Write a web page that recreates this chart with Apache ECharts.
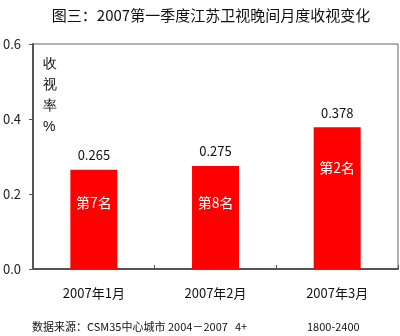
<!DOCTYPE html>
<html><head><meta charset="utf-8">
<script src="https://cdn.jsdelivr.net/npm/echarts@6/dist/echarts.min.js"></script>
<style>html,body{margin:0;padding:0;background:#fff}#c{width:400px;height:336px}</style>
</head><body><div id="c"></div>
<script>
const categories = ['2007年1月', '2007年2月', '2007年3月'];
const ratings = [0.265, 0.275, 0.378];
const ranks = ['第7名', '第8名', '第2名'];
const yTicks = [0, 0.2, 0.4, 0.6];
const rankOffsets = [26, 30, 33];

const FONT = '"Noto Sans CJK SC", "Noto Sans", sans-serif';
const chart = echarts.init(document.getElementById('c'), null, {renderer: 'canvas'});
chart.setOption({
  backgroundColor: '#fff',
  animation: false,
  textStyle: {fontFamily: FONT},
  title: {
    text: '图三：2007第一季度江苏卫视晚间月度收视变化',
    left: 206, top: 3, textAlign: 'center',
    textStyle: {fontSize: 15, fontWeight: 'normal', color: '#111', fontFamily: FONT}
  },
  grid: {left: 33, right: 2, top: 44, bottom: 67, show: true, borderColor: '#666', borderWidth: 1},
  xAxis: {
    type: 'category', data: categories,
    axisLine: {lineStyle: {color: '#555', width: 2}},
    axisTick: {show: true, inside: true, length: 4, lineStyle: {color: '#555'}},
    axisLabel: {fontSize: 13, color: '#111', margin: 18, fontFamily: FONT}
  },
  yAxis: {
    type: 'value', min: yTicks[0], max: yTicks[yTicks.length - 1], interval: 0.2,
    splitLine: {show: false},
    axisLine: {show: true, lineStyle: {color: '#555', width: 2}},
    axisTick: {show: true, length: 4, lineStyle: {color: '#555'}},
    axisLabel: {fontSize: 13, color: '#222', margin: 12, formatter: v => v.toFixed(1), fontFamily: FONT}
  },
  series: [
    {
      type: 'bar', barWidth: 47,
      data: ratings.map((v, i) => ({value: v})),
      itemStyle: {color: '#ff0000'},
      label: {show: true, position: 'top', distance: 8, fontSize: 13, color: '#111',
        formatter: p => p.value.toFixed(3), fontFamily: FONT},
      z: 2
    },
    {
      type: 'bar', barWidth: 47, barGap: '-100%',
      data: ratings.map((v, i) => ({
        value: v,
        label: {distance: rankOffsets[i]}
      })),
      itemStyle: {color: 'rgba(0,0,0,0)'},
      label: {show: true, position: 'insideTop', fontSize: 14, color: '#fff',
        formatter: p => ranks[p.dataIndex], fontFamily: FONT},
      z: 3
    }
  ],
  graphic: [
    {type: 'text', left: 43, top: 54, style: {text: '收\n视\n率\n%', fontSize: 14, lineHeight: 21, fill: '#111', font: '14px ' + FONT}},
    {type: 'text', left: 32, top: 321, style: {text: '数据来源：CSM35中心城市', fill: '#111', font: '11px ' + FONT}},
    {type: 'text', left: 168, top: 321, style: {text: '2004－2007', fill: '#111', font: '11px ' + FONT}},
    {type: 'text', left: 235, top: 321, style: {text: '4+', fill: '#111', font: '11px ' + FONT}},
    {type: 'text', left: 307, top: 321, style: {text: '1800-2400', fill: '#111', font: '11px ' + FONT}}
  ]
});
</script></body></html>
